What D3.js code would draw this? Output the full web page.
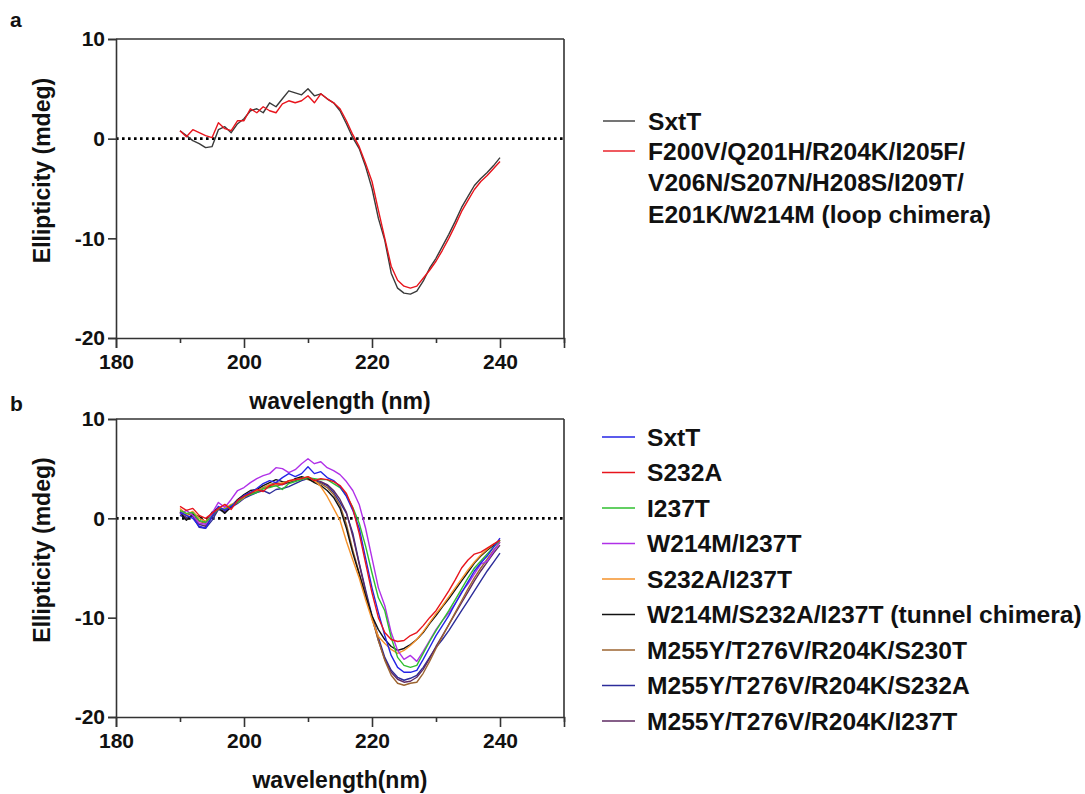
<!DOCTYPE html>
<html><head><meta charset="utf-8">
<script src="https://cdn.jsdelivr.net/npm/d3@7"></script>
<style>
html,body{margin:0;padding:0;background:#fff;}
svg text{font-family:"Liberation Sans",Arial,Helvetica,sans-serif;font-weight:bold;fill:#111;}
</style></head>
<body>
<svg id="chart" width="1085" height="794"></svg>
<script>
const wavelength = d3.range(190, 241, 1);
const xTicksMajor = [180, 200, 220, 240];
const xTicksMinor = [190, 210, 230, 250];
const yTicks = [10, 0, -10, -20];

// Panel a
const aNames = ["SxtT", "F200V/Q201H/R204K/I205F/\nV206N/S207N/H208S/I209T/\nE201K/W214M (loop chimera)"];
const aColors = ["#3a3a3a", "#e8141c"];
const aSxtT = [0.8,0.3,-0.2,-0.5,-0.9,-0.8,0.9,1.2,0.6,1.5,2.0,2.8,3.0,2.6,3.6,3.2,4.0,4.8,4.6,4.4,5.0,4.3,4.5,4.0,3.6,2.8,1.5,0.1,-1.0,-2.8,-5.0,-8.0,-10.2,-13.5,-15.0,-15.5,-15.6,-15.3,-14.3,-13.0,-12.0,-10.8,-9.6,-8.3,-6.9,-5.8,-4.7,-4.0,-3.4,-2.7,-1.9];
const aLoop = [0.8,0.2,0.9,0.6,0.3,0.1,1.6,1.0,0.8,1.8,1.8,3.0,2.6,3.2,2.8,2.6,3.5,3.8,3.6,3.8,4.3,3.6,4.5,4.0,3.6,3.0,1.8,0.4,-0.8,-2.5,-4.3,-7.2,-10.0,-12.8,-14.2,-14.8,-15.0,-14.8,-14.0,-13.2,-12.3,-11.2,-10.0,-8.7,-7.3,-6.2,-5.1,-4.3,-3.7,-3.0,-2.3];

// Panel b
const bNames = ["SxtT","S232A","I237T","W214M/I237T","S232A/I237T","W214M/S232A/I237T (tunnel chimera)","M255Y/T276V/R204K/S230T","M255Y/T276V/R204K/S232A","M255Y/T276V/R204K/I237T"];
const bColors = ["#2424e6","#e8141c","#2fbf2f","#b030e8","#f5922a","#111111","#9c6430","#2c2c9a","#5e2a62"];
const bSxtT = [0.6,0.3,0.0,-0.8,-1.0,0.2,1.2,0.8,1.2,1.8,2.3,2.6,3.0,3.5,3.8,3.6,4.1,4.5,4.2,4.5,5.2,4.5,4.7,4.1,3.8,3.2,2.2,0.8,-1.0,-4.0,-7.0,-9.5,-11.8,-13.8,-15.0,-15.5,-15.5,-15.3,-14.2,-13.0,-11.8,-10.8,-9.8,-8.6,-7.5,-6.4,-5.3,-4.5,-3.8,-2.9,-2.0];
const bS232A = [1.2,0.8,1.0,0.3,0.0,0.5,1.0,1.4,0.9,1.8,2.2,2.5,2.9,2.7,3.3,3.5,3.4,3.8,3.9,4.0,4.2,3.8,4.0,3.9,3.7,3.3,2.5,1.0,-1.5,-4.5,-7.5,-10.0,-11.5,-12.2,-12.4,-12.3,-11.8,-11.5,-10.8,-10.0,-9.3,-8.3,-7.3,-6.2,-5.0,-4.2,-3.6,-3.4,-3.0,-2.6,-2.2];
const bI237T = [0.8,0.5,0.6,-0.2,-0.4,0.2,1.0,0.9,1.3,1.6,2.2,2.4,2.6,3.0,3.1,3.3,2.9,3.5,3.7,3.9,4.1,4.0,3.9,3.9,3.5,3.1,2.3,1.1,-0.5,-2.8,-5.5,-8.0,-9.3,-12.0,-14.0,-14.8,-15.0,-14.8,-13.6,-12.4,-11.3,-10.3,-9.3,-8.2,-7.1,-6.0,-5.0,-4.3,-3.6,-2.9,-2.2];
const bW214M_I237T = [0.4,0.8,0.3,-0.5,-0.6,0.5,1.6,1.1,1.9,2.8,3.1,3.6,4.0,4.3,4.5,5.1,5.0,4.6,4.9,5.5,6.0,5.5,5.7,5.1,4.8,4.4,3.7,2.8,1.4,-1.0,-4.0,-7.0,-8.8,-11.5,-13.3,-14.2,-13.8,-14.4,-13.4,-12.3,-11.2,-10.3,-9.5,-8.6,-7.4,-6.6,-5.6,-4.6,-4.3,-3.3,-2.4];
const bS232A_I237T = [1.0,0.4,0.7,0.0,-0.3,0.3,1.0,1.0,1.4,1.6,2.1,2.6,2.8,3.0,3.4,3.3,3.6,3.7,3.9,4.0,4.2,3.8,3.2,2.2,1.0,-0.2,-2.3,-4.2,-6.0,-8.2,-10.2,-11.9,-12.6,-13.2,-13.6,-13.3,-12.8,-12.2,-11.4,-10.5,-9.6,-8.8,-7.9,-7.0,-6.1,-5.2,-4.4,-3.7,-3.1,-2.6,-2.3];
const bTunnel = [0.6,-0.2,0.4,0.2,-0.4,0.6,1.1,0.5,1.2,1.9,2.4,2.8,2.9,3.3,3.6,3.9,3.7,3.6,4.0,4.2,4.0,3.6,3.3,2.8,2.1,1.0,-1.0,-3.5,-5.6,-7.8,-9.8,-11.2,-12.2,-12.9,-13.3,-13.1,-12.7,-12.2,-11.5,-10.6,-9.8,-8.9,-8.1,-7.2,-6.3,-5.4,-4.5,-3.8,-3.2,-2.7,-2.2];
const bS230T = [0.7,0.3,0.5,-0.3,-0.5,0.4,1.0,0.8,1.3,1.8,2.3,2.6,2.8,3.1,3.4,3.6,3.5,3.8,3.9,4.1,3.9,3.7,3.5,3.1,2.4,1.3,-0.6,-3.2,-5.5,-7.8,-10.0,-12.3,-14.3,-15.8,-16.6,-16.8,-16.6,-16.5,-15.6,-14.4,-13.1,-11.9,-10.7,-9.5,-8.3,-7.1,-6.0,-5.0,-4.1,-3.2,-2.4];
const bS232A_m = [0.3,0.0,0.2,-0.9,-1.0,-0.2,0.9,0.6,1.1,1.5,2.0,2.3,2.6,2.8,2.5,2.9,3.0,3.2,3.5,3.8,4.0,3.8,3.6,3.3,2.6,1.6,0.5,-1.5,-4.5,-7.2,-9.8,-12.0,-14.0,-15.3,-16.0,-16.3,-16.1,-15.8,-15.0,-14.0,-13.0,-12.2,-11.3,-10.3,-9.3,-8.3,-7.3,-6.3,-5.3,-4.4,-3.5];
const bI237T_m = [0.5,0.1,0.3,-0.6,-0.8,0.1,1.0,0.7,1.2,1.6,2.1,2.5,2.7,3.0,3.2,3.3,3.4,3.6,3.8,4.0,4.1,3.9,3.7,3.4,2.8,1.9,0.6,-1.8,-4.6,-7.4,-10.0,-12.3,-14.2,-15.5,-16.2,-16.5,-16.4,-16.0,-15.2,-14.1,-12.9,-11.8,-10.7,-9.6,-8.5,-7.4,-6.3,-5.3,-4.4,-3.5,-2.7];
const bSeries = [bSxtT,bS232A,bI237T,bW214M_I237T,bS232A_I237T,bTunnel,bS230T,bS232A_m,bI237T_m];
const bDrawOrder = [7,8,6,5,4,3,2,0,1];

const svg = d3.select("#chart");

function panel(top, bottom, series, colors, order, xLabel, letter, letterY) {
  const left = 116, right = 564;
  const x = d3.scaleLinear().domain([180, 250]).range([left, right]);
  const y = d3.scaleLinear().domain([-20, 10]).range([bottom, top]);
  const g = svg.append("g");
  g.append("line").attr("x1", left).attr("x2", right).attr("y1", top).attr("y2", top).attr("stroke", "#333").attr("stroke-width", 1.6);
  g.append("line").attr("x1", right).attr("x2", right).attr("y1", top).attr("y2", bottom).attr("stroke", "#333").attr("stroke-width", 1.6);
  g.append("line").attr("x1", left).attr("x2", right).attr("y1", y(0)).attr("y2", y(0))
    .attr("stroke", "#000").attr("stroke-width", 2.6).attr("stroke-dasharray", "2.6,3.4");
  const line = d3.line().x((d, i) => x(wavelength[i])).y(d => y(d));
  order.forEach(k => {
    g.append("path").datum(series[k]).attr("d", line).attr("fill", "none")
      .attr("stroke", colors[k]).attr("stroke-width", 1.4).attr("stroke-linejoin", "round");
  });
  const xAxis = d3.axisBottom(x).tickValues(xTicksMajor).tickSize(10).tickPadding(6).tickFormat(d3.format("d"));
  const gx = g.append("g").attr("transform", `translate(0,${bottom})`).call(xAxis);
  gx.selectAll(".tick line").attr("stroke", "#333").attr("stroke-width", 1.6);
  gx.select(".domain").attr("stroke", "#333").attr("stroke-width", 1.6);
  gx.selectAll("text").style("font-size", "21px").attr("fill", "#111");
  const xMinor = d3.axisBottom(x).tickValues(xTicksMinor).tickSize(5).tickFormat("");
  const gxm = g.append("g").attr("transform", `translate(0,${bottom})`).call(xMinor);
  gxm.select(".domain").remove();
  gxm.selectAll(".tick line").attr("stroke", "#333").attr("stroke-width", 1.6);
  const yAxis = d3.axisLeft(y).tickValues(yTicks).tickSize(8).tickPadding(3).tickFormat(d => d < 0 ? "-" + Math.abs(d) : String(d));
  const gy = g.append("g").attr("transform", `translate(${left},0)`).call(yAxis);
  gy.selectAll(".tick line").attr("stroke", "#333").attr("stroke-width", 1.6);
  gy.select(".domain").attr("stroke", "#333").attr("stroke-width", 1.6);
  gy.selectAll("text").style("font-size", "21px").attr("fill", "#111");
  svg.selectAll(".tick text").style("font-family", "'Liberation Sans',Arial,sans-serif").style("font-weight", "bold");
  svg.append("text").attr("x", (left + right) / 2).attr("y", bottom + 71)
    .attr("text-anchor", "middle").style("font-size", "23px").text(xLabel);
  svg.append("text").attr("transform", `translate(50,${(top + bottom) / 2 - 18}) rotate(-90)`)
    .attr("text-anchor", "middle").style("font-size", "23px").text("Ellipticity (mdeg)");
  svg.append("text").attr("x", 10).attr("y", letterY).style("font-size", "21px").text(letter);
}

panel(39, 338, [aSxtT, aLoop], aColors, [0, 1], "wavelength (nm)", "a", 27);
panel(419, 717, bSeries, bColors, bDrawOrder, "wavelength(nm)", "b", 411);

const legA = svg.append("g");
const aRowY = [121, 151];
aNames.forEach((n, i) => {
  legA.append("line").attr("x1", 603).attr("x2", 635).attr("y1", aRowY[i]).attr("y2", aRowY[i])
    .attr("stroke", aColors[i]).attr("stroke-width", 1.4);
  n.split("\n").forEach((p, j) => {
    legA.append("text").attr("x", 648).attr("y", aRowY[i] + 8.7 + j * 31.5).style("font-size", "24.6px").text(p);
  });
});

const legB = svg.append("g");
bNames.forEach((n, i) => {
  const yy = 437 + i * 35.5;
  legB.append("line").attr("x1", 602).attr("x2", 635).attr("y1", yy).attr("y2", yy)
    .attr("stroke", bColors[i]).attr("stroke-width", 1.4);
  legB.append("text").attr("x", 647).attr("y", yy + 8.7).style("font-size", "24.6px").text(n);
});
</script>
</body></html>
